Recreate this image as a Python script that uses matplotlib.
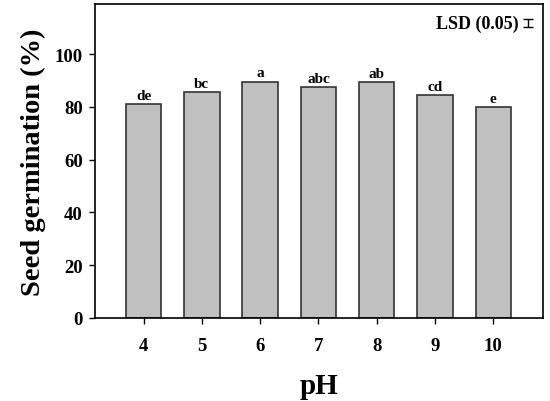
import matplotlib
matplotlib.use("Agg")
import matplotlib.pyplot as plt

ph_labels = ["4", "5", "6", "7", "8", "9", "10"]
germination = [81.2, 85.7, 89.6, 87.5, 89.4, 84.6, 79.8]
letters = ["de", "bc", "a", "abc", "ab", "cd", "e"]
lsd_value = 3.0

plt.rcParams["font.family"] = ["Liberation Serif", "DejaVu Serif"]
plt.rcParams["font.weight"] = "bold"

fig = plt.figure(figsize=(5.5, 4.02), dpi=100)
ax = fig.add_axes([0.173, 0.2065, 0.814, 0.781])

x = list(range(len(ph_labels)))
ax.bar(x, germination, width=0.61, color="#c0c0c0", edgecolor="#333333", linewidth=1.2)

for xi, val, lab in zip(x, germination, letters):
    ax.text(xi, val + 0.8, lab, ha="center", va="bottom", fontsize=11, fontweight="bold")

# LSD marker in the upper right corner
ax.text(6.43, 111.7, "LSD (0.05)", ha="right", va="center", fontsize=13, fontweight="bold")
ax.errorbar([6.6], [111.7], yerr=[lsd_value / 2], color="black", capsize=3.3,
            elinewidth=1, capthick=1)

ax.set_xlim(-0.83, 6.85)
ax.set_ylim(0, 119)
ax.set_xticks(x)
ax.set_xticklabels(ph_labels)
ax.set_yticks([0, 20, 40, 60, 80, 100])
ax.tick_params(axis="both", direction="out", labelsize=13.5, length=4, width=1)
ax.tick_params(axis="x", pad=10)
ax.tick_params(axis="y", pad=5)
for lab in ax.get_xticklabels() + ax.get_yticklabels():
    lab.set_fontweight("bold")

for sp in ax.spines.values():
    sp.set_linewidth(1.2)

ax.set_xlabel("pH", fontsize=21, fontweight="bold", labelpad=13)
ax.set_ylabel("Seed germination (%)", fontsize=20.5, fontweight="bold", labelpad=6)

fig.savefig("out.png", dpi=100)
